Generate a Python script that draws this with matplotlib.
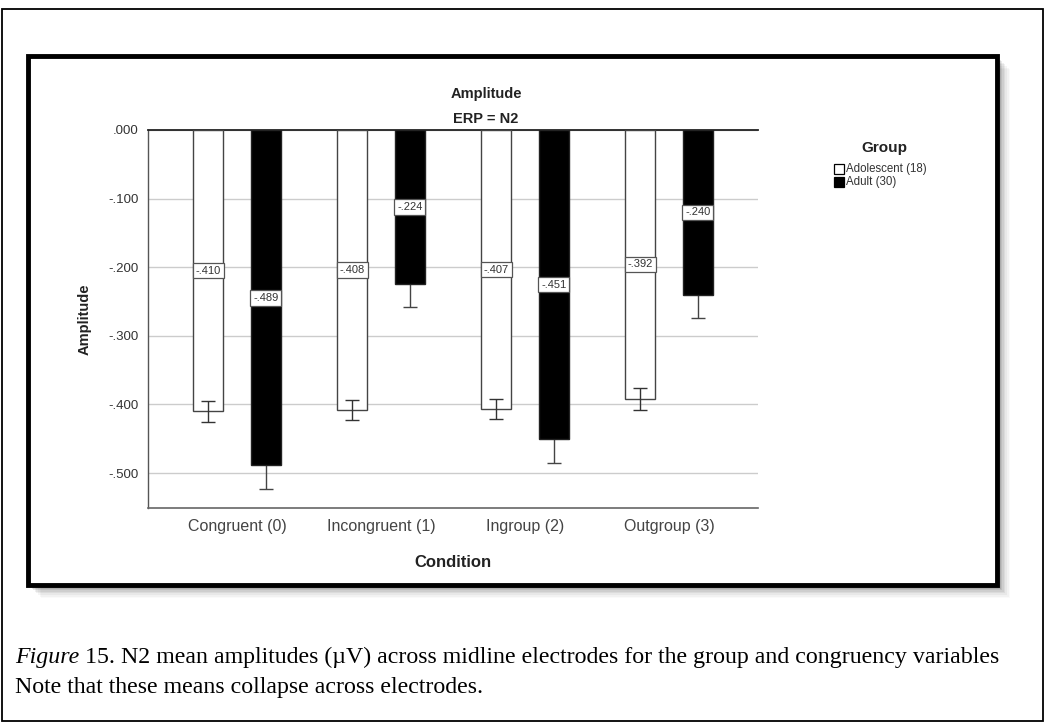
import matplotlib
matplotlib.use("Agg")
import matplotlib.pyplot as plt
from matplotlib.patches import Rectangle
import numpy as np

# ---- data ----
categories = ["Congruent (0)", "Incongruent (1)", "Ingroup (2)", "Outgroup (3)"]
groups = ["Adolescent (18)", "Adult (30)"]
adolescent = [-0.410, -0.408, -0.407, -0.392]
adult = [-0.489, -0.224, -0.451, -0.240]
adolescent_err = [0.015, 0.0145, 0.0145, 0.0155]
adult_err = [0.034, 0.034, 0.034, 0.034]
labels_adol = ["-.410", "-.408", "-.407", "-.392"]
labels_adult = ["-.489", "-.224", "-.451", "-.240"]
yticks = [0.0, -0.1, -0.2, -0.3, -0.4, -0.5]
ytick_labels = [".000", "-.100", "-.200", "-.300", "-.400", "-.500"]

plt.rcParams['font.family'] = ['Liberation Sans', 'DejaVu Sans']

W, H = 1045, 723
fig = plt.figure(figsize=(W / 100, H / 100), dpi=100)

def fx(px):
    return px / W

def fy(py):
    return 1 - py / H

# outer border
fig.patches.append(Rectangle((fx(2), fy(721)), fx(1041), (721 - 9) / H,
                             transform=fig.transFigure, fill=False,
                             edgecolor='black', linewidth=1.3))

# shadow of inner frame
for i, a in enumerate([0.10, 0.09, 0.08, 0.06, 0.05, 0.04, 0.03, 0.02]):
    off = 2 + i * 1.6
    fig.patches.append(Rectangle((fx(28 + off), fy(585 + off)), fx(969), (529) / H,
                                 transform=fig.transFigure, facecolor='black',
                                 edgecolor='none', alpha=a, zorder=0))
fig.patches.append(Rectangle((fx(28), fy(585)), fx(969), 529 / H,
                             transform=fig.transFigure, facecolor='white',
                             edgecolor='black', linewidth=3.5, zorder=1))

ax = fig.add_axes([fx(148), fy(508), fx(610), (508 - 130) / H])
ax.set_zorder(2)
ax.patch.set_alpha(0)

x = np.arange(len(categories))
off = 0.2
bw = 0.208
ax.bar(x - off, adolescent, bw, color='white', edgecolor='#444444', linewidth=1.0, zorder=3)
ax.bar(x + off, adult, bw, color='black', edgecolor='#222222', linewidth=1.0, zorder=3)
ax.errorbar(x - off, adolescent, yerr=adolescent_err, fmt='none', ecolor='#333333',
            elinewidth=1.0, capsize=5.2, capthick=1.0, zorder=4)
ax.errorbar(x + off, adult, yerr=adult_err, fmt='none', ecolor='#444444',
            elinewidth=1.0, capsize=5.2, capthick=1.0, zorder=2.9)

for xi, v, t in zip(x - off, adolescent, labels_adol):
    ax.text(xi, v / 2, t, ha='center', va='center', fontsize=8, color='#333333', zorder=5,
            bbox=dict(boxstyle='square,pad=0.25', facecolor='white', edgecolor='#555555', linewidth=0.9))
for xi, v, t in zip(x + off, adult, labels_adult):
    ax.text(xi, v / 2, t, ha='center', va='center', fontsize=8, color='#333333', zorder=5,
            bbox=dict(boxstyle='square,pad=0.25', facecolor='white', edgecolor='#555555', linewidth=0.9))

ax.set_xlim(-0.618, 3.618)
ax.set_ylim(-0.551, 0.0)
ax.set_yticks(yticks)
ax.set_yticklabels(ytick_labels)
ax.set_xticks(x)
ax.set_xticklabels(categories)
ax.tick_params(axis='both', length=0)
ax.tick_params(axis='y', labelsize=9.5, labelcolor='#333333', pad=7)
ax.tick_params(axis='x', labelsize=11.5, labelcolor='#444444', pad=8)
ax.grid(axis='y', color='#cccccc', linewidth=1.0, zorder=0)
ax.set_axisbelow(True)
ax.spines['right'].set_visible(False)
ax.spines['left'].set_color('#555555')
ax.spines['bottom'].set_color('#666666')
ax.spines['bottom'].set_linewidth(1.2)
ax.spines['top'].set_color('#222222')
ax.spines['top'].set_linewidth(1.3)
ax.spines['left'].set_linewidth(1.0)

ax.set_ylabel("Amplitude", fontsize=10.5, fontweight='bold', color='#222222', labelpad=12)
ax.set_xlabel("Condition", fontsize=12, fontweight='bold', color='#222222', labelpad=15)

fig.text(fx(486), fy(94), "Amplitude", ha='center', va='center', fontsize=10.5,
         fontweight='bold', color='#222222')
fig.text(fx(486), fy(119), "ERP = N2", ha='center', va='center', fontsize=10.5,
         fontweight='bold', color='#222222')

# legend
fig.text(fx(884), fy(148), "Group", ha='center', va='center', fontsize=11,
         fontweight='bold', color='#222222')
fig.patches.append(Rectangle((fx(834), fy(174)), fx(10), 10 / H, transform=fig.transFigure,
                             facecolor='white', edgecolor='black', linewidth=0.9, zorder=3))
fig.patches.append(Rectangle((fx(834), fy(187)), fx(10), 10 / H, transform=fig.transFigure,
                             facecolor='black', edgecolor='black', linewidth=0.9, zorder=3))
fig.text(fx(846), fy(169), groups[0], ha='left', va='center', fontsize=8.3, color='#333333')
fig.text(fx(846), fy(182), groups[1], ha='left', va='center', fontsize=8.3, color='#333333')

# caption
cap_font = ['Liberation Serif', 'DejaVu Serif']
cap_size = 17.2
t1 = fig.text(fx(15), fy(657), "Figure", ha='left', va='center', fontsize=cap_size,
              family=cap_font, style='italic', color='black')
fig.canvas.draw()
bb = t1.get_window_extent()
fig.text((bb.x1) / W, fy(657),
         " 15. N2 mean amplitudes (\u00b5V) across midline electrodes for the group and congruency variables",
         ha='left', va='center', fontsize=cap_size, family=cap_font, color='black')
fig.text(fx(15), fy(687), "Note that these means collapse across electrodes.", ha='left', va='center',
         fontsize=cap_size, family=cap_font, color='black')

fig.savefig("out.png", dpi=100)
